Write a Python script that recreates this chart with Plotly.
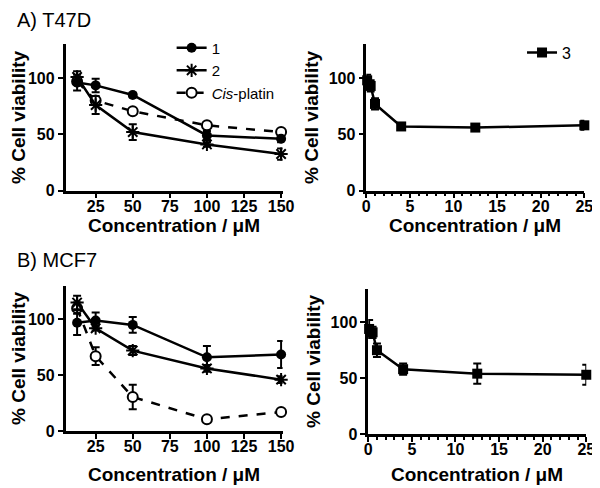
import plotly.graph_objects as go

# ---------------- data ----------------
conc = [12.5, 25, 50, 100, 150]
conc3 = [0.1, 0.5, 1, 4, 12.5, 25]

# A) T47D
t47d_c1 = [96, 93.5, 85, 49, 46]
t47d_c1_err = [7, 6, 2, 4, 3]
t47d_c2 = [101, 76, 52, 41, 32.5]
t47d_c2_err = [5, 8, 7, 2, 5]
t47d_cis = [97, 80, 70.5, 58, 52]
t47d_cis_err = [3, 3, 2, 2, 2]
t47d_c3 = [98, 93, 77, 57, 56, 58]
t47d_c3_err = [5, 5, 5, 2, 2, 4]

# B) MCF7
mcf7_c1 = [97, 99, 95, 66, 68.5]
mcf7_c1_err = [11, 7, 7, 10, 12]
mcf7_c2 = [115, 92, 72, 56, 46]
mcf7_c2_err = [6, 2, 4, 3, 3]
mcf7_cis = [110, 67, 30.5, 10.5, 17]
mcf7_cis_err = [5, 8, 11, 2, 2]
mcf7_c3 = [94, 91, 75, 58, 54, 53]
mcf7_c3_err = [8, 5, 6, 5, 9, 9]

names = ["1", "2", "<i>Cis</i>-platin", "3"]
y_ticks = [0, 50, 100]
x_ticks_left = [25, 50, 75, 100, 125, 150]
x_ticks_right = [0, 5, 10, 15, 20, 25]
x_title = "Concentration / μM"
y_title = "% Cell viability"

# ---------------- figure ----------------
W, H = 600, 488
FONT = "Liberation Sans, Arial, sans-serif"
fig = go.Figure()

def px_x(a, b):
    return [a / W, b / W]

def px_y(top, bottom):
    return [1 - bottom / H, 1 - top / H]

panels = {
    # axis suffix: (xdomain, ydomain, x-title centre y in px)
    "1": (px_x(55, 278), px_y(37, 186), 222),
    "2": (px_x(364, 588), px_y(37, 186), 222),
    "3": (px_x(55, 278), px_y(283, 431), 475),
    "4": (px_x(366, 590), px_y(286, 434), 475),
}

styles = {
    "c1": dict(marker=dict(symbol="circle", size=10, color="black"),
               line=dict(color="black", width=2.5)),
    "c2": dict(marker=dict(symbol="asterisk-open", size=11, color="black",
                           line=dict(color="black", width=2)),
               line=dict(color="black", width=2.5)),
    "cis": dict(marker=dict(symbol="circle", size=10, color="white",
                            line=dict(color="black", width=2)),
                line=dict(color="black", width=2.5, dash="dash")),
    "c3": dict(marker=dict(symbol="square", size=10, color="black"),
               line=dict(color="black", width=2.5)),
}

def add(x, y, err, style, name, ax, showlegend, legend="legend"):
    xa = "x" if ax == "1" else "x" + ax
    ya = "y" if ax == "1" else "y" + ax
    fig.add_trace(go.Scatter(
        x=x, y=y, mode="lines+markers", name=name,
        error_y=dict(type="data", array=err, color="black", thickness=2, width=4),
        xaxis=xa, yaxis=ya, showlegend=showlegend, legend=legend,
        cliponaxis=False,
        **styles[style]))

add(conc, t47d_cis, t47d_cis_err, "cis", names[2], "1", True)
add(conc, t47d_c2, t47d_c2_err, "c2", names[1], "1", True)
add(conc, t47d_c1, t47d_c1_err, "c1", names[0], "1", True)
add(conc3, t47d_c3, t47d_c3_err, "c3", names[3], "2", True, "legend2")
add(conc, mcf7_cis, mcf7_cis_err, "cis", names[2], "3", False)
add(conc, mcf7_c2, mcf7_c2_err, "c2", names[1], "3", False)
add(conc, mcf7_c1, mcf7_c1_err, "c1", names[0], "3", False)
add(conc3, mcf7_c3, mcf7_c3_err, "c3", names[3], "4", False)

tickfont = dict(family=FONT, size=16, color="black", weight="bold")
titlefont = dict(family=FONT, size=19, color="black", weight="bold")

layout = dict(
    width=W, height=H,
    margin=dict(l=0, r=0, t=0, b=0),
    paper_bgcolor="white", plot_bgcolor="white",
    font=dict(family=FONT, color="black"),
    legend=dict(x=164 / W, y=1 - 24 / H, xanchor="left", yanchor="top",
                traceorder="reversed", bgcolor="rgba(0,0,0,0)",
                font=dict(family=FONT, size=15, color="black"),
                itemwidth=30, tracegroupgap=0),
    legend2=dict(x=524 / W, y=1 - 28 / H, xanchor="left", yanchor="top",
                 bgcolor="rgba(0,0,0,0)",
                 font=dict(family=FONT, size=16, color="black"), itemwidth=30),
)

annotations = []
for ax, (xd, yd, title_y) in panels.items():
    left = ax in ("1", "3")
    xkey = "xaxis" if ax == "1" else "xaxis" + ax
    ykey = "yaxis" if ax == "1" else "yaxis" + ax
    ya = "y" if ax == "1" else "y" + ax
    xa = "x" if ax == "1" else "x" + ax
    xaxis = dict(
        domain=xd, anchor=ya,
        range=[4.7, 151] if left else [0, 25],
        tickvals=x_ticks_left if left else x_ticks_right,
        showgrid=False, zeroline=False,
        showline=True, linecolor="black", linewidth=2.5,
        ticks="outside", ticklen=5, tickwidth=2, tickcolor="black",
        tickfont=tickfont, ticklabelstandoff=-6,
    )
    if not left:
        xaxis["minor"] = dict(dtick=1, tick0=0, ticks="outside", ticklen=3,
                              tickwidth=1.5, tickcolor="black")
    yaxis = dict(
        domain=yd, anchor=xa,
        range=[0, 130],
        tickvals=y_ticks,
        showgrid=False, zeroline=False,
        showline=True, linecolor="black", linewidth=2.5,
        ticks="outside", ticklen=5, tickwidth=2, tickcolor="black",
        tickfont=tickfont,
        title=dict(text=y_title, font=titlefont, standoff=7 if left else 5),
    )
    layout[xkey] = xaxis
    layout[ykey] = yaxis
    annotations.append(dict(
        text=x_title, x=(xd[0] + xd[1]) / 2, y=1 - title_y / H,
        xref="paper", yref="paper", xanchor="center", yanchor="middle",
        showarrow=False, font=titlefont))

annotations.append(dict(text="A) T47D", x=3 / W, y=1 - 12 / H, xref="paper", yref="paper",
                        xanchor="left", yanchor="middle", showarrow=False,
                        font=dict(family=FONT, size=20, color="black")))
annotations.append(dict(text="B) MCF7", x=3 / W, y=1 - 257 / H, xref="paper", yref="paper",
                        xanchor="left", yanchor="middle", showarrow=False,
                        font=dict(family=FONT, size=20, color="black")))
layout["annotations"] = annotations

fig.update_layout(**layout)
fig.write_html("out.html")
